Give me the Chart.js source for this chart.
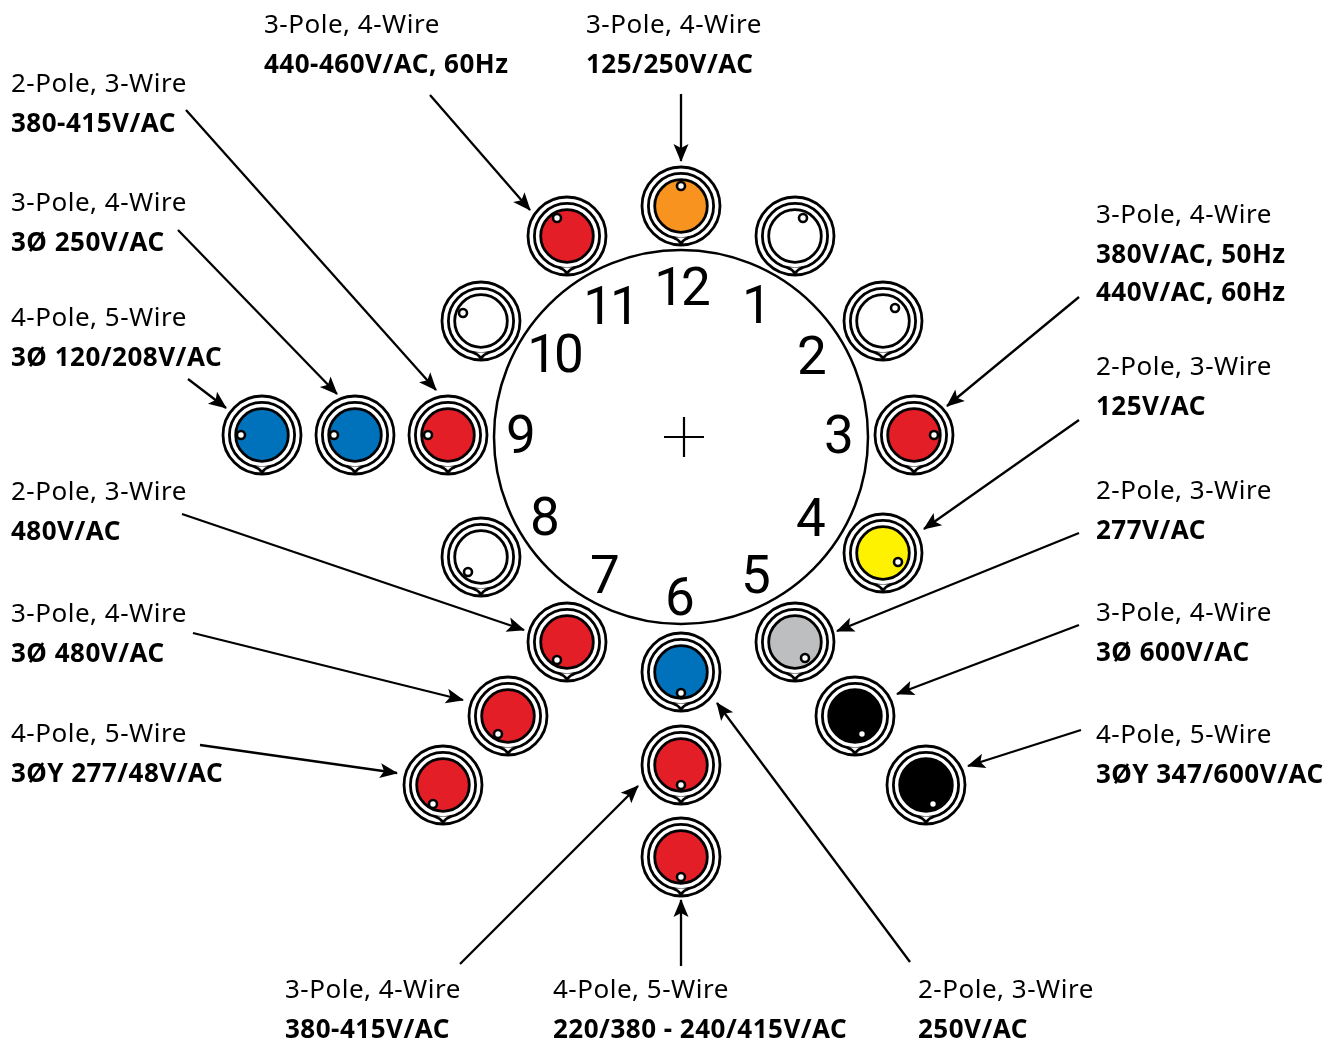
<!DOCTYPE html>
<html>
<head>
<meta charset="utf-8">
<title>Receptacle clock positions</title>
<script src="https://cdn.jsdelivr.net/npm/chart.js@4"></script>
<style>
html, body { margin: 0; padding: 0; background: #fff; }
canvas { display: block; }
</style>
</head>
<body>
<canvas id="clockChart" width="1338" height="1043"></canvas>
<script>
// receptacles
const plugX = [681, 795, 883, 914, 883, 795, 681, 567, 481, 448, 481, 567, 355, 262, 508, 443, 681, 681, 855, 926];
const plugY = [206, 236, 321, 435, 553, 642, 672, 642, 557, 435, 321, 236, 435, 435, 716, 785, 765, 857, 716, 785];
const pinX = [681, 803, 895, 934, 898, 805, 681, 557, 468, 428, 463, 557, 334, 241, 498, 433, 681, 681, 862, 933];
const pinY = [186, 218, 308, 435, 562, 658, 693, 660, 572, 435, 313, 218, 435, 435, 734, 804, 785, 877, 734, 804];
const plugColors = ['#F7931E', '#FFFFFF', '#FFFFFF', '#E31E26', '#FFF200', '#BCBEC0', '#0072BC', '#E31E26', '#FFFFFF', '#E31E26',
    '#FFFFFF', '#E31E26', '#0072BC', '#0072BC', '#E31E26', '#E31E26', '#E31E26', '#E31E26', '#000000', '#000000'];

// clock numbers
const hourLabels = ['12', '1', '2', '3', '4', '5', '6', '7', '8', '9', '10', '11'];
const hourX = [681, 757, 812, 839, 811, 756, 680, 605, 545, 521, 554, 610];
const hourY = [292, 310, 361, 440, 523, 580, 602, 580, 522, 440, 359, 311];

// arrows, tail then tip
const arrowFromX = [430, 681, 186, 178, 188, 1079, 1079, 1079, 1079, 1081, 182, 193, 200, 460, 681, 910];
const arrowFromY = [95, 94, 110, 230, 379, 297, 420, 533, 625, 730, 514, 633, 745, 964, 966, 962];
const arrowToX = [530, 681, 436, 337, 226, 947, 924, 837, 897, 968, 524, 463, 397, 638, 681, 717];
const arrowToY = [210, 161, 390, 394, 408, 406, 529, 631, 694, 766, 630, 700, 773, 786, 900, 703];

// captions
const captionText = [
    '3-Pole, 4-Wire', '440-460V/AC, 60Hz',
    '3-Pole, 4-Wire', '125/250V/AC',
    '2-Pole, 3-Wire', '380-415V/AC',
    '3-Pole, 4-Wire', '3Ø 250V/AC',
    '4-Pole, 5-Wire', '3Ø 120/208V/AC',
    '3-Pole, 4-Wire', '380V/AC, 50Hz', '440V/AC, 60Hz',
    '2-Pole, 3-Wire', '125V/AC',
    '2-Pole, 3-Wire', '277V/AC',
    '3-Pole, 4-Wire', '3Ø 600V/AC',
    '4-Pole, 5-Wire', '3ØY 347/600V/AC',
    '2-Pole, 3-Wire', '480V/AC',
    '3-Pole, 4-Wire', '3Ø 480V/AC',
    '4-Pole, 5-Wire', '3ØY 277/48V/AC',
    '3-Pole, 4-Wire', '380-415V/AC',
    '4-Pole, 5-Wire', '220/380 - 240/415V/AC',
    '2-Pole, 3-Wire', '250V/AC'
];
const captionBold = [0, 1, 0, 1, 0, 1, 0, 1, 0, 1, 0, 1, 1, 0, 1, 0, 1, 0, 1, 0, 1, 0, 1, 0, 1, 0, 1, 0, 1, 0, 1, 0, 1];
const captionX = [264, 264, 586, 586, 11, 11, 11, 11, 11, 11, 1096, 1096, 1096, 1096, 1096, 1096, 1096, 1096, 1096, 1096, 1096,
    11, 11, 11, 11, 11, 11, 285, 285, 553, 553, 918, 918];
const captionY = [33, 73, 33, 73, 92, 132, 211, 251, 326, 366, 223, 263, 301, 375, 415, 499, 539, 621, 661, 743, 783,
    500, 540, 622, 662, 742, 782, 998, 1038, 998, 1038, 998, 1038];

function xy(xs, ys) {
    return xs.map((x, i) => ({ x: x, y: ys[i] }));
}

const arrowDatasets = arrowFromX.map((x, i) => ({
    type: 'line',
    data: [{ x: x, y: arrowFromY[i] }, { x: arrowToX[i], y: arrowToY[i] }],
    borderColor: '#000',
    borderWidth: 2.3,
    pointRadius: 0,
    fill: false,
    order: 5
}));

// small V at the bottom of each middle ring, and the arrow heads
const detailsPlugin = {
    id: 'details',
    afterDatasetsDraw(chart) {
        const c = chart.ctx;
        const sx = chart.scales.x;
        const sy = chart.scales.y;
        c.save();
        plugX.forEach((x, i) => {
            const px = sx.getPixelForValue(x);
            const py = sy.getPixelForValue(plugY[i]);
            c.beginPath();
            c.moveTo(px - 8, py + 31.5);
            c.quadraticCurveTo(px - 3, py + 33, px, py + 37.5);
            c.quadraticCurveTo(px + 3, py + 33, px + 8, py + 31.5);
            c.fillStyle = '#fff';
            c.strokeStyle = '#000';
            c.lineWidth = 2.8;
            c.fill();
            c.stroke();
        });
        arrowFromX.forEach((x, i) => {
            const x0 = sx.getPixelForValue(x);
            const y0 = sy.getPixelForValue(arrowFromY[i]);
            const x1 = sx.getPixelForValue(arrowToX[i]);
            const y1 = sy.getPixelForValue(arrowToY[i]);
            c.save();
            c.translate(x1, y1);
            c.rotate(Math.atan2(y1 - y0, x1 - x0));
            c.beginPath();
            c.moveTo(1, 0);
            c.lineTo(-17, -7.5);
            c.lineTo(-13, 0);
            c.lineTo(-17, 7.5);
            c.closePath();
            c.fillStyle = '#000';
            c.fill();
            c.restore();
        });
        // numbers on the dial, two digit ones are set a bit tight
        c.fillStyle = '#000';
        c.textAlign = 'center';
        c.textBaseline = 'middle';
        c.font = '53px Roboto, sans-serif';
        hourLabels.forEach((t, i) => {
            c.letterSpacing = t.length > 1 ? '-3px' : '0px';
            c.fillText(t, sx.getPixelForValue(hourX[i]), sy.getPixelForValue(hourY[i]));
        });
        // captions
        c.textAlign = 'left';
        c.textBaseline = 'alphabetic';
        captionText.forEach((t, i) => {
            c.font = (captionBold[i] ? '700 ' : '400 ') + '26px "Noto Sans", sans-serif';
            c.letterSpacing = '0.5px';
            c.fillText(t, sx.getPixelForValue(captionX[i]), sy.getPixelForValue(captionY[i]));
        });
        c.restore();
    }
};

new Chart(document.getElementById('clockChart').getContext('2d'), {
    type: 'scatter',
    data: {
        datasets: [
            // dial
            { data: [{ x: 681, y: 437 }], pointRadius: 187, backgroundColor: '#fff', borderColor: '#000', borderWidth: 2.5, order: 10 },
            { data: [{ x: 684, y: 437 }], pointStyle: 'cross', pointRadius: 20, borderColor: '#000', borderWidth: 2.2, order: 9 },
            // receptacle rings, face and pin
            { data: xy(plugX, plugY), pointRadius: 39, backgroundColor: '#fff', borderColor: '#000', borderWidth: 2.8, order: 4 },
            { data: xy(plugX, plugY), pointRadius: 32.6, backgroundColor: '#fff', borderColor: '#000', borderWidth: 2.8, order: 3 },
            { data: xy(plugX, plugY), pointRadius: 26.3, backgroundColor: plugColors, borderColor: '#000', borderWidth: 2.8, order: 2 },
            { data: xy(pinX, pinY), pointRadius: 4, backgroundColor: '#fff', borderColor: '#000', borderWidth: 2.6, order: 1 }
        ].concat(arrowDatasets)
    },
    options: {
        responsive: false,
        animation: false,
        clip: false,
        layout: { padding: 0, autoPadding: false },
        plugins: { legend: { display: false }, tooltip: { enabled: false } },
        scales: {
            x: { type: 'linear', min: 0, max: 1338, display: false },
            y: { type: 'linear', min: 0, max: 1043, reverse: true, display: false }
        }
    },
    plugins: [detailsPlugin]
});
</script>
</body>
</html>
